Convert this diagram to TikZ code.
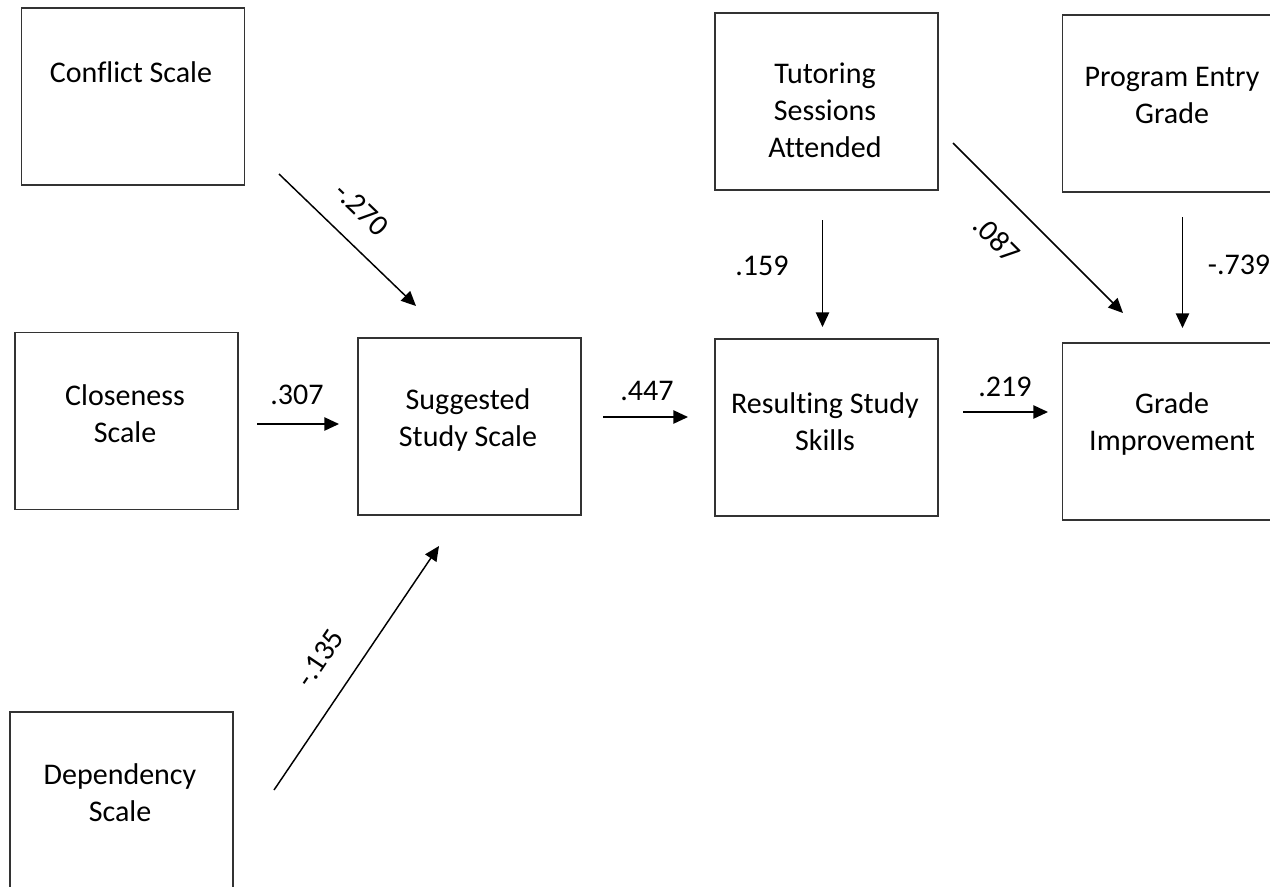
\documentclass[tikz,border=0pt]{standalone}
\usepackage{fontspec}
\setmainfont{Carlito}[Ligatures=NoCommon]
\usetikzlibrary{arrows.meta}
\begin{document}
\begin{tikzpicture}[x=0.75pt,y=-0.75pt,
  box/.style={draw=black!80, line width=1.1pt, minimum width=167.25pt, minimum height=132.75pt, inner sep=0pt},
  txt/.style={font=\fontsize{22.5}{27.4}\selectfont, align=center, anchor=base, inner sep=0pt},
  lbl/.style={font=\fontsize{22.5}{27.4}\selectfont, inner sep=0pt},
  arr/.style={line width=1.1pt, -{Triangle[length=11pt,width=10pt]}}]
\useasboundingbox (0,0) rectangle (1270,886);
\clip (0,0) rectangle (1270,886);
\fill[white] (0,0) rectangle (1270,886);

% boxes
\node[box] (conf) at (133,96.5) {};
\node[box] (clos) at (126.5,421) {};
\node[box] (dep)  at (121.5,800.5) {};
\node[box] (sugg) at (469.5,426.5) {};
\node[box] (tut)  at (826.5,101.5) {};
\node[box] (res)  at (826.5,427.5) {};
\node[box] (prog) at (1174,103.5) {};
\node[box] (grade) at (1174,431.5) {};

% texts (anchor = baseline of last line)
\node[txt] (conft) at (131,82) {Conflict Scale};
\node[txt] (clost) at (125,442) {Closeness\\Scale};
\node[txt] (dept)  at (120,821) {Dependency\\Scale};
\node[txt] (suggt) at (468,446) {Suggested\\Study Scale};
\node[txt] (tutt)  at (825,157) {Tutoring\\Sessions\\Attended};
\node[txt] (rest)  at (825,450) {Resulting Study\\Skills};
\node[txt] (progt) at (1172,123) {Program Entry\\Grade};
\node[txt] (gradet) at (1172,450) {Grade\\Improvement};

% connector ends
\coordinate (a1) at (279,174);  \coordinate (b1) at (416,306);
\coordinate (a2) at (257,424);  \coordinate (b2) at (339,424);
\coordinate (a3) at (274,790);  \coordinate (b3) at (439,546);
\coordinate (a4) at (603,417);  \coordinate (b4) at (688,417);
\coordinate (a5) at (822.5,220); \coordinate (b5) at (822.5,327);
\coordinate (a6) at (953,143);  \coordinate (b6) at (1123,313);
\coordinate (a7) at (1182.5,217); \coordinate (b7) at (1182.5,328);
\coordinate (a8) at (963,412);  \coordinate (b8) at (1048,412);

\draw[arr] (a1) -- (b1);
\draw[arr] (a2) -- (b2);
\draw[arr] (a3) -- (b3);
\draw[arr] (a4) -- (b4);
\draw[arr] (a5) -- (b5);
\draw[arr] (a6) -- (b6);
\draw[arr] (a7) -- (b7);
\draw[arr] (a8) -- (b8);

% labels
\node[lbl, rotate=-44] (l1) at (362,209) {-.270};
\node[lbl, anchor=base] (l2) at (297,404) {.307};
\node[lbl, rotate=56] (l3) at (320,658) {-.135};
\node[lbl, anchor=base] (l4) at (647,400) {.447};
\node[lbl, anchor=base] (l5) at (762,275) {.159};
\node[lbl, rotate=-45] (l6) at (997,239) {.087};
\node[lbl, anchor=base] (l7) at (1239,274) {-.739};
\node[lbl, anchor=base] (l8) at (1005,396) {.219};
\end{tikzpicture}
\end{document}
